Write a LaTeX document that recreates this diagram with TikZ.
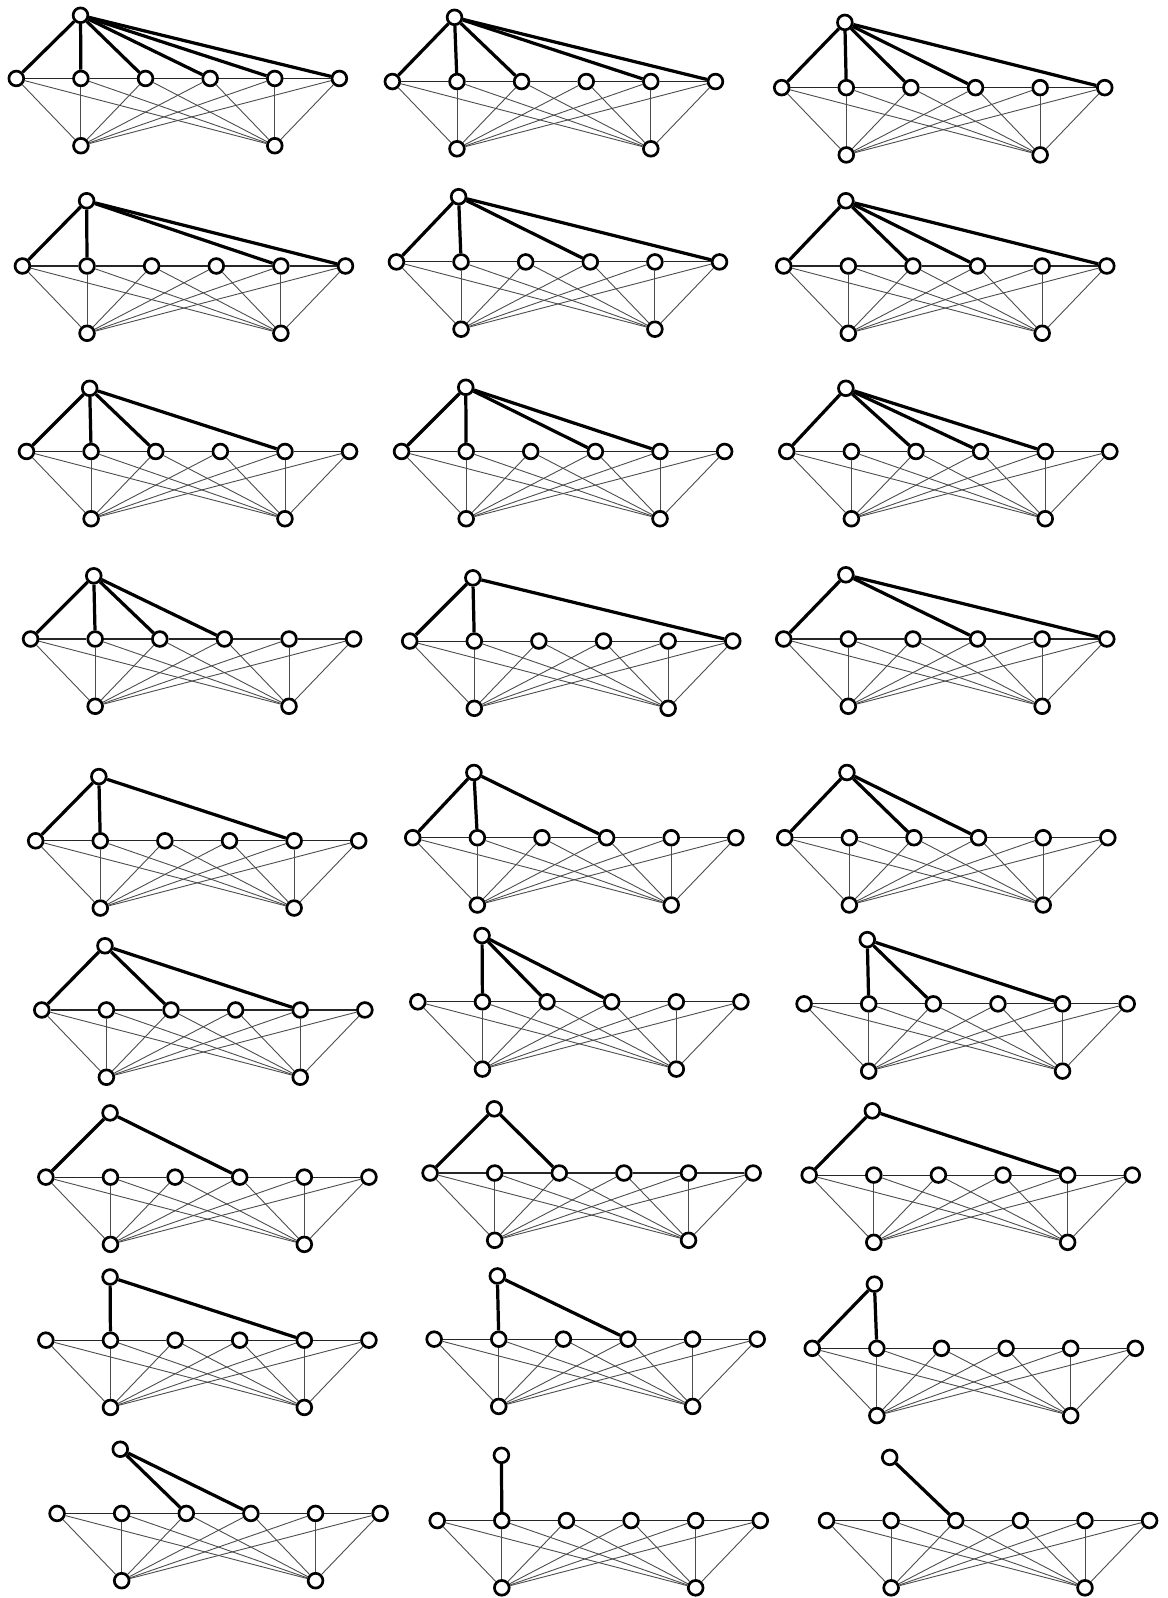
\documentclass[tikz,border=0pt]{standalone}
\usepackage{tikz}
\usetikzlibrary{calc}
% one graph: name, x of first middle vertex, y of middle row, apex x, apex y, middle vertices tied to the apex
\newcommand{\kgraph}[6]{%
  \foreach \i in {1,...,6} \node[vtx] (#1-m\i) at ({#2+63.4*(\i-1)},#3) {};
  \node[vtx] (#1-b1) at ({#2+63.4},{#3+66}) {};
  \node[vtx] (#1-b2) at ({#2+63.4*4},{#3+66}) {};
  \node[vtx] (#1-t) at (#4,#5) {};
  \foreach \i [evaluate=\i as \k using int(\i+1)] in {1,...,5} \draw[lnk] (#1-m\i)--(#1-m\k);
  \foreach \i in {1,...,6} {\draw[spoke] (#1-b1)--(#1-m\i); \draw[spoke] (#1-b2)--(#1-m\i);}
  \foreach \j in {#6} \draw[hub] (#1-t)--(#1-m\j);
}
\begin{document}
\begin{tikzpicture}[x=0.02cm,y=-0.02cm,
  vtx/.style={circle,draw=black,fill=white,line width=1.5pt,minimum size=0.29cm,inner sep=0pt},
  lnk/.style={black!85,line width=0.6pt},
  spoke/.style={black!70,line width=0.5pt},
  hub/.style={black,line width=1.8pt}]
\useasboundingbox (0,0) rectangle (1146,1568);
% row 1
\kgraph{g1}{16}{77}{79}{15}{1,2,3,4,5,6}
\kgraph{g2}{385}{80}{446}{17}{1,2,3,5,6}
\kgraph{g3}{767}{86}{829}{22}{1,2,3,4,6}
% row 2
\kgraph{g4}{22}{261}{85}{197}{1,2,5,6}
\kgraph{g5}{389}{257}{450}{193}{1,2,4,6}
\kgraph{g6}{769}{261}{830}{197}{1,3,4,6}
% row 3
\kgraph{g7}{26}{443}{88}{381}{1,2,3,5}
\kgraph{g8}{394}{443}{457}{380}{1,2,4,5}
\kgraph{g9}{772}{443}{830}{381}{1,3,4,5}
% row 4
\kgraph{g10}{30}{627}{92}{565}{1,2,3,4}
\kgraph{g11}{402}{629}{464}{567}{1,2,6}
\kgraph{g12}{769}{627}{830}{564}{1,4,6}
% row 5
\kgraph{g13}{35}{825}{97}{762}{1,2,5}
\kgraph{g14}{405}{822}{465}{758}{1,2,4}
\kgraph{g15}{770}{822}{831}{758}{1,3,4}
% row 6
\kgraph{g16}{41}{991}{103}{928}{1,3,5}
\kgraph{g17}{410}{983}{473}{918}{2,3,4}
\kgraph{g18}{789}{985}{851}{922}{2,3,5}
% row 7
\kgraph{g19}{45}{1155}{108}{1092}{1,4}
\kgraph{g20}{422}{1151}{485}{1088}{1,3}
\kgraph{g21}{794}{1153}{856}{1090}{1,5}
% row 8
\kgraph{g22}{45}{1315}{108}{1253}{2,5}
\kgraph{g23}{426}{1314}{488}{1252}{2,4}
\kgraph{g24}{797}{1323}{858}{1260}{1,2}
% row 9
\kgraph{g25}{56}{1485}{118}{1422}{3,4}
\kgraph{g26}{429}{1492}{492}{1428}{2}
\kgraph{g27}{811}{1492}{873}{1430}{3}
\end{tikzpicture}
\end{document}
